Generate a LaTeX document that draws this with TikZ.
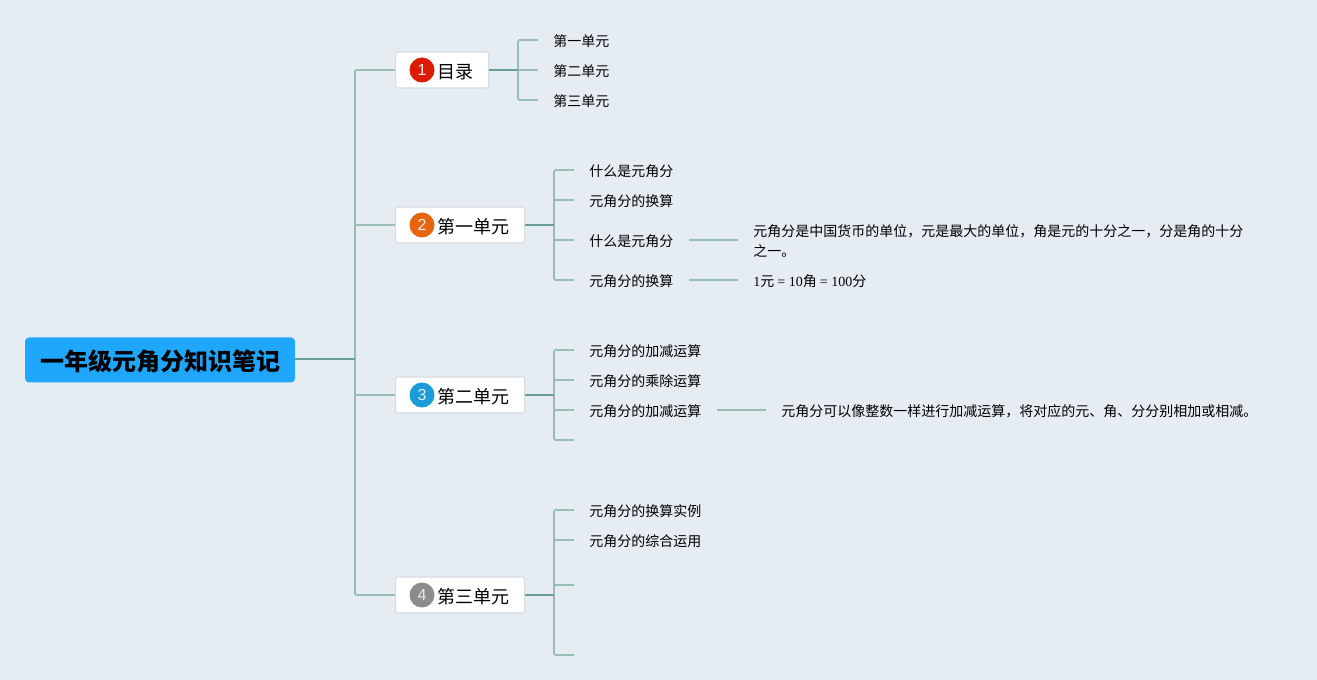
\documentclass[tikz,border=0pt]{standalone}
\usepackage{fontspec}
\setmainfont{Liberation Serif}
\newfontfamily\cjk{Noto Sans CJK SC}
\newfontfamily\badgefont{Liberation Sans}
\newcommand{\cjkcomma}{\char"FF0C\relax}
\definecolor{bgmap}{HTML}{E6EDF2}
\definecolor{rootblue}{HTML}{1EA7FD}
\definecolor{boxline}{HTML}{D6DDE2}
\definecolor{darkline}{HTML}{6A9E92}
\definecolor{lightline}{HTML}{97BDB5}
\definecolor{badgeA}{HTML}{DB1C02}
\definecolor{badgeB}{HTML}{E8650F}
\definecolor{badgeC}{HTML}{1B9BD8}
\definecolor{badgeD}{HTML}{8C8C8C}
\tikzset{
  rootnode/.style={rectangle,rounded corners=3pt,fill=rootblue,minimum width=202.5pt,minimum height=33.75pt,inner sep=0pt,text height=17.5pt,text depth=2.2pt,font=\cjk\bfseries\fontsize{18pt}{22pt}\selectfont},
  topic/.style={rectangle,rounded corners=1.5pt,draw=boxline,fill=white,line width=.9pt,minimum height=27pt,inner ysep=0pt,inner xsep=11.25pt,anchor=west,text height=14pt,text depth=1.7pt,font=\cjk\fontsize{13.5pt}{16pt}\selectfont},
  badge/.style={circle,fill=#1,minimum size=18.75pt,inner sep=0pt,text=white!92!black,font=\badgefont\fontsize{12pt}{14pt}\selectfont},
  note/.style={inner ysep=0pt,inner xsep=11.25pt,anchor=west,align=left,font=\cjk\fontsize{10.5pt}{15pt}\selectfont},
  leaf/.style={note,text height=10.5pt,text depth=1pt},
  trunk/.style={draw=darkline,line width=1.2pt},
  twig/.style={draw=lightline,line width=1.2pt,rounded corners=1pt}
}
\begin{document}
\begin{tikzpicture}[x=.75pt,y=-.75pt]
    \useasboundingbox (0,0) rectangle (1317,680);
    \fill[bgmap] (0,0) rectangle (1317,680);

    % centre and main branches
    \node[rootnode] (Root) at (160,360) {一年级元角分知识笔记};
    \coordinate (J0) at (355,359);
    \node[topic] (T1) at (395,70) {\hspace*{20.25pt}目录};
    \node[topic] (T2) at (395,225) {\hspace*{20.25pt}第一单元};
    \node[topic] (T3) at (395,395) {\hspace*{20.25pt}第二单元};
    \node[topic] (T4) at (395,595) {\hspace*{20.25pt}第三单元};
    \node[badge=badgeA] (B1) at (422,70) {1};
    \node[badge=badgeB] (B2) at (422,225) {2};
    \node[badge=badgeC] (B3) at (422,395) {3};
    \node[badge=badgeD] (B4) at (422,595) {4};
    \draw[twig] (J0) |- (T1.west);
    \draw[twig] (J0) |- (T2.west);
    \draw[twig] (J0) |- (T3.west);
    \draw[twig] (J0) |- (T4.west);
    \draw[trunk] (Root.east |- J0) -- (J0);

    % contents
    \coordinate (J1) at (518,70);
    \node[leaf] (L11) at (538,40) {第一单元};
    \node[leaf] (L12) at (538,70) {第二单元};
    \node[leaf] (L13) at (538,100) {第三单元};
    \draw[twig] (J1) |- (L11.west);
    \draw[twig] (J1) -- (L12.west);
    \draw[twig] (J1) |- (L13.west);
    \draw[trunk] (T1.east) -- (J1);

    % unit one
    \coordinate (J2) at (554,225);
    \node[leaf] (L21) at (574,170) {什么是元角分};
    \node[leaf] (L22) at (574,200) {元角分的换算};
    \node[leaf] (L23) at (574,240) {什么是元角分};
    \node[leaf] (L24) at (574,280) {元角分的换算};
    \node[note] (N23) at (738,241) {元角分是中国货币的单位\cjkcomma 元是最大的单位\cjkcomma 角是元的十分之一\cjkcomma 分是角的十分\\之一。};
    \node[leaf] (N24) at (738,280) {{\rmfamily 1}元 {\rmfamily = 10}角 {\rmfamily = 100}分};
    \draw[twig] (J2) |- (L21.west);
    \draw[twig] (J2) |- (L22.west);
    \draw[twig] (J2) |- (L23.west);
    \draw[twig] (J2) |- (L24.west);
    \draw[twig] (L23.east) -- (L23.east -| N23.west);
    \draw[twig] (L24.east) -- (N24.west);
    \draw[trunk] (T2.east) -- (J2);

    % unit two
    \coordinate (J3) at (554,395);
    \coordinate (E34) at (574,440);
    \node[leaf] (L31) at (574,350) {元角分的加减运算};
    \node[leaf] (L32) at (574,380) {元角分的乘除运算};
    \node[leaf] (L33) at (574,410) {元角分的加减运算};
    \node[leaf] (N33) at (766,410) {元角分可以像整数一样进行加减运算\cjkcomma 将对应的元、角、分分别相加或相减。};
    \draw[twig] (J3) |- (L31.west);
    \draw[twig] (J3) |- (L32.west);
    \draw[twig] (J3) |- (L33.west);
    \draw[twig] (J3) |- (E34);
    \draw[twig] (L33.east) -- (N33.west);
    \draw[trunk] (T3.east) -- (J3);

    % unit three
    \coordinate (J4) at (554,595);
    \coordinate (E43) at (574,585);
    \coordinate (E44) at (574,655);
    \node[leaf] (L41) at (574,510) {元角分的换算实例};
    \node[leaf] (L42) at (574,540) {元角分的综合运用};
    \draw[twig] (J4) |- (L41.west);
    \draw[twig] (J4) |- (L42.west);
    \draw[twig] (J4) |- (E43);
    \draw[twig] (J4) |- (E44);
    \draw[trunk] (T4.east) -- (J4);
\end{tikzpicture}
\end{document}
